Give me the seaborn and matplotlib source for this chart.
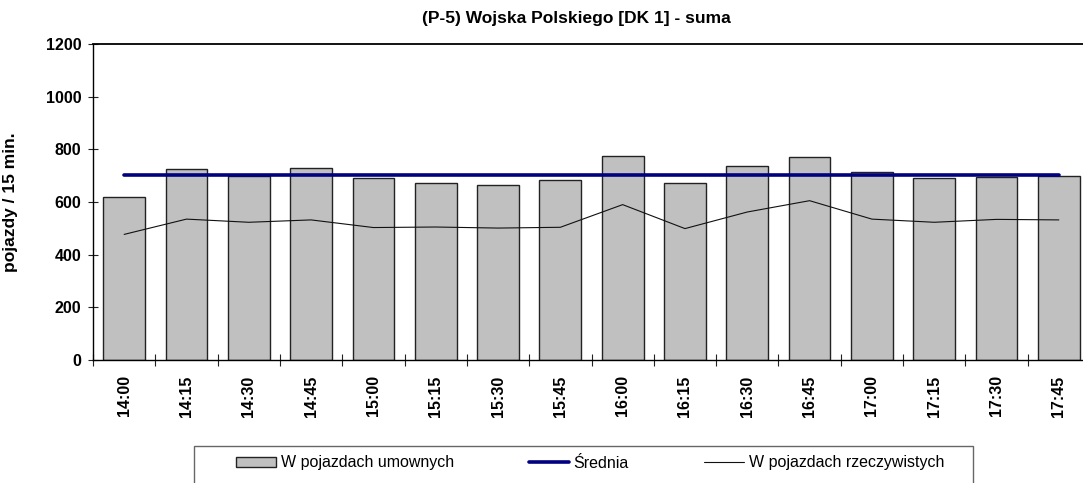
import numpy as np
import pandas as pd
import matplotlib
matplotlib.use("Agg")
import matplotlib.pyplot as plt
from matplotlib.ticker import FixedLocator
from matplotlib.patches import Rectangle
import seaborn as sns

categories = ["14:00", "14:15", "14:30", "14:45", "15:00", "15:15", "15:30", "15:45",
              "16:00", "16:15", "16:30", "16:45", "17:00", "17:15", "17:30", "17:45"]
umowne = [618, 724, 700, 730, 690, 671, 663, 682, 773, 671, 735, 770, 713, 691, 694, 698]
rzeczywiste = [477, 535, 523, 532, 503, 505, 501, 504, 590, 499, 562, 605, 535, 523, 534, 532]
srednia_value = 702
srednia = [srednia_value] * len(categories)
y_ticks = [0, 200, 400, 600, 800, 1000, 1200]

title = "(P-5) Wojska Polskiego [DK 1] - suma"
ylabel = "pojazdy / 15 min."
lab_bar = "W pojazdach umownych"
lab_mean = "Średnia"
lab_line = "W pojazdach rzeczywistych"

sns.set_theme(style="white")
plt.rcParams["font.family"] = ["Liberation Sans", "DejaVu Sans"]
plt.rcParams.update({"text.color": "black", "axes.labelcolor": "black",
                     "xtick.color": "black", "ytick.color": "black"})

df = pd.DataFrame({"godz": categories, "umowne": umowne,
                   "rzeczywiste": rzeczywiste, "srednia": srednia})

W, H = 1083, 483
fig = plt.figure(figsize=(W / 100, H / 100), dpi=100)
ax = fig.add_axes([93 / W, 1 - 360 / H, 997 / W, 316 / H])

sns.barplot(data=df, x="godz", y="umowne", color="#C0C0C0", saturation=1,
            width=0.67, edgecolor="#222222", linewidth=1.0, ax=ax, label=lab_bar)
sns.lineplot(data=df, x="godz", y="srednia", color="#000080", linewidth=2.6,
             ax=ax, label=lab_mean)
sns.lineplot(data=df, x="godz", y="rzeczywiste", color="#111111", linewidth=0.8,
             ax=ax, label=lab_line)

ax.set_xlim(-0.5, 15.5)
ax.set_ylim(0, 1200)
ax.set_yticks(y_ticks)
ax.set_yticklabels([str(v) for v in y_ticks], fontsize=11.5, fontweight="bold")
ax.set_xticks(range(len(categories)))
ax.set_xticklabels(categories, rotation=90, fontsize=11.5, fontweight="bold")
ax.xaxis.set_minor_locator(FixedLocator(np.arange(-0.5, len(categories), 1.0)))
ax.tick_params(axis="x", which="major", length=0, pad=11)
ax.tick_params(axis="x", which="minor", direction="inout", length=8.5, width=0.8,
               color="#222222", bottom=True)
ax.tick_params(axis="y", direction="inout", length=7, width=0.8, color="#222222",
               pad=5, left=True)
ax.set_xlabel("")
ax.set_ylabel(ylabel, fontsize=12.5, fontweight="bold")
ax.yaxis.set_label_coords(-75 / 997, 0.5)

for side in ["left", "bottom", "top"]:
    ax.spines[side].set_visible(True)
    ax.spines[side].set_color("black")
    ax.spines[side].set_linewidth(1.0)
ax.spines["right"].set_visible(False)
ax.spines["top"].set_linewidth(1.3)
ax.grid(False)

fig.text(576 / W, 1 - 18 / H, title, ha="center", va="center",
         fontsize=12.5, fontweight="bold", color="black")

handles, labels = ax.get_legend_handles_labels()
if ax.get_legend() is not None:
    ax.get_legend().remove()
order = [labels.index(lab_bar), labels.index(lab_mean), labels.index(lab_line)]

fig.patches.append(Rectangle((194 / W, 1 - 492 / H), (973 - 194) / W, 46 / H,
                             transform=fig.transFigure, facecolor="white",
                             edgecolor="#666666", linewidth=1.0, zorder=0))
leg = fig.legend([handles[i] for i in order], [labels[i] for i in order],
                 loc="center left", bbox_to_anchor=(236 / W, 1 - 463 / H),
                 ncol=3, fontsize=11.5, frameon=False,
                 handlelength=2.5, handleheight=0.6,
                 columnspacing=4.7, handletextpad=0.3, borderpad=0,
                 borderaxespad=0)
for t in leg.get_texts():
    t.set_color("black")

fig.savefig("out.png", dpi=100)
